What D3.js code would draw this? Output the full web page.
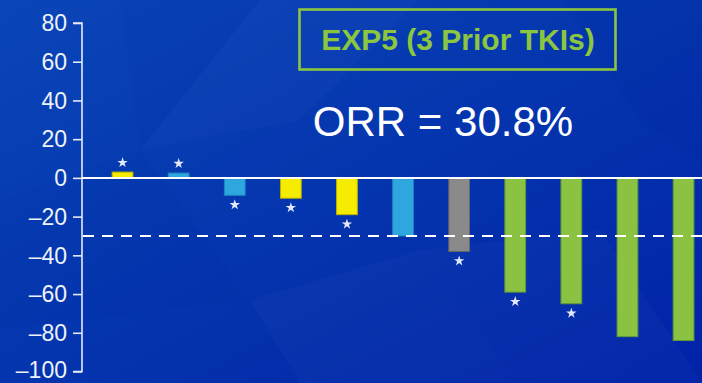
<!DOCTYPE html>
<html>
<head>
<meta charset="utf-8">
<script src="https://cdn.jsdelivr.net/npm/d3@7"></script>
<style>
  html, body { margin: 0; padding: 0; background: #0536b0; }
  svg { display: block; font-family: "Liberation Sans", Arial, sans-serif; }
</style>
</head>
<body>
<svg id="chart" width="702" height="383"></svg>
<script>
// Best change from baseline (%) per patient, sorted
const patients = ["P1", "P2", "P3", "P4", "P5", "P6", "P7", "P8", "P9", "P10", "P11"];
const changes  = [3, 2.5, -9, -10.5, -19, -30, -38, -59, -65, -82, -84];
const groups   = ["A", "B", "B", "A", "A", "B", "C", "D", "D", "D", "D"];
const marked   = [true, true, true, true, true, false, true, true, true, false, false];
const yTicks   = [80, 60, 40, 20, 0, -20, -40, -60, -80, -100];
const threshold = -30;
const boxTitle = "EXP5 (3 Prior TKIs)";
const orrLabel = "ORR = 30.8%";

const W = 702, H = 383;
const svg = d3.select("#chart");

// background: deep blue with soft faceted panels
const defs = svg.append("defs");
const bg = defs.append("linearGradient").attr("id", "bg")
  .attr("x1", "0").attr("y1", "0").attr("x2", "1").attr("y2", "1");
bg.append("stop").attr("offset", "0%").attr("stop-color", "#0a46b8");
bg.append("stop").attr("offset", "55%").attr("stop-color", "#0433ad");
bg.append("stop").attr("offset", "100%").attr("stop-color", "#0122a8");
svg.append("rect").attr("width", W).attr("height", H).attr("fill", "url(#bg)");

const facets = [
  [[120, 0], [260, 0], [140, 150]],
  [[260, 0], [420, 0], [300, 120], [140, 150]],
  [[0, 200], [140, 150], [250, 300], [0, 330]],
  [[250, 300], [420, 250], [520, 383], [300, 383]],
  [[560, 0], [702, 0], [702, 160], [640, 120]],
  [[420, 250], [600, 230], [702, 383], [520, 383]]
];
const facetOpacity = [0.025, 0.02, 0.02, 0.025, 0.025, 0.02];
svg.append("g").selectAll("polygon").data(facets).join("polygon")
  .attr("points", d => d.map(p => p.join(",")).join(" "))
  .attr("fill", (d, i) => i % 2 ? "#ffffff" : "#000a60")
  .attr("opacity", (d, i) => facetOpacity[i]);

// scales
const x = d3.scaleBand().domain(patients)
  .range([94.5, 711.6]).paddingInner(0.63).paddingOuter(0.315);
const y = d3.scaleLinear().domain([-100, 80]).range([371.5, 23]);
const axisX = 82;

const color = d3.scaleOrdinal().domain(["A", "B", "C", "D"])
  .range(["#f5ec00", "#2ea7de", "#8a8a8a", "#8cc241"]);
const edge = d3.scaleOrdinal().domain(["A", "B", "C", "D"])
  .range(["#b9b300", "#1f86c0", "#666666", "#5f9a35"]);

// y axis
const yAxis = d3.axisLeft(y).tickValues(yTicks).tickSize(9).tickPadding(6)
  .tickFormat(d => d < 0 ? "\u2013" + Math.abs(d) : String(d));
const ag = svg.append("g").attr("transform", `translate(${axisX},0)`).call(yAxis);
ag.select(".domain").attr("stroke", "#e6ebf5").attr("stroke-width", 1.6)
  .attr("d", `M-9,${y(80)}H0V${y(-100)}H-9`);
ag.selectAll(".tick line").attr("stroke", "#e6ebf5").attr("stroke-width", 1.6);
ag.selectAll(".tick text").attr("fill", "#eef2fa").attr("font-size", 23)
  .attr("font-family", "'Liberation Sans', Arial, sans-serif").attr("dy", "0.34em");
// lift the bottom label slightly so it sits inside the frame
ag.selectAll(".tick text").filter(d => d === -100).attr("dy", "0.25em");

// bars
const idx = d3.range(patients.length);
svg.append("g").selectAll("rect").data(idx).join("rect")
  .attr("x", i => x(patients[i]))
  .attr("width", x.bandwidth())
  .attr("y", i => y(Math.max(0, changes[i])))
  .attr("height", i => Math.abs(y(changes[i]) - y(0)))
  .attr("fill", i => color(groups[i]))
  .attr("stroke", i => edge(groups[i]))
  .attr("stroke-width", 1);

// zero line and response threshold
svg.append("line").attr("x1", axisX).attr("x2", W)
  .attr("y1", y(0)).attr("y2", y(0))
  .attr("stroke", "#ffffff").attr("stroke-width", 2);
svg.append("line").attr("x1", axisX + 1).attr("x2", W)
  .attr("y1", y(threshold)).attr("y2", y(threshold))
  .attr("stroke", "#ffffff").attr("stroke-width", 2)
  .attr("stroke-dasharray", "11,8");

// star markers
const star = d3.symbol().type(d3.symbolStar).size(34);
svg.append("g").selectAll("path").data(idx.filter(i => marked[i])).join("path")
  .attr("d", star)
  .attr("transform", i => {
    const cx = x(patients[i]) + x.bandwidth() / 2;
    const cy = changes[i] >= 0 ? y(changes[i]) - 9.5 : y(changes[i]) + 9.5;
    return `translate(${cx},${cy})`;
  })
  .attr("fill", "#e4e8ff");

// cohort box
svg.append("rect").attr("x", 299.5).attr("y", 9.5).attr("width", 316).attr("height", 60)
  .attr("fill", "none").attr("stroke", "#8cc63f").attr("stroke-width", 2.6);
svg.append("text").attr("x", 458).attr("y", 50)
  .attr("text-anchor", "middle").attr("font-size", 30).attr("font-weight", "bold")
  .attr("fill", "#8cc63f").text(boxTitle);

svg.append("text").attr("x", 443).attr("y", 136)
  .attr("text-anchor", "middle").attr("font-size", 42)
  .attr("fill", "#ffffff").text(orrLabel);
</script>
</body>
</html>
